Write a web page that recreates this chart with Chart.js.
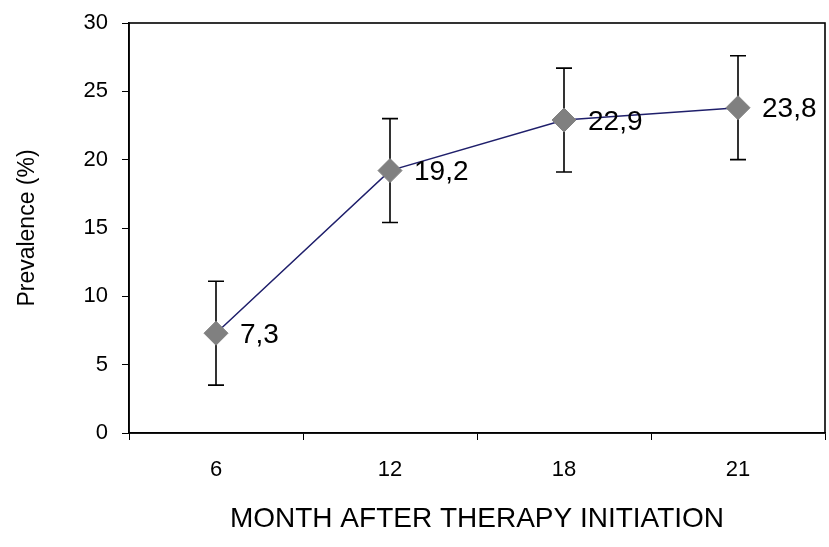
<!DOCTYPE html>
<html>
<head>
<meta charset="utf-8">
<script src="https://cdn.jsdelivr.net/npm/chart.js@4/dist/chart.umd.min.js"></script>
<style>
  html, body { margin: 0; padding: 0; background: #fff; }
  #wrap { width: 829px; height: 547px; }
</style>
</head>
<body>
<div id="wrap"><canvas id="myChart"></canvas></div>
<script>
var months = ["6", "12", "18", "21"];
var prevalence = [7.3, 19.2, 22.9, 23.8];
var errors = [3.8, 3.8, 3.8, 3.8];
var yTicks = [0, 5, 10, 15, 20, 25, 30];

var FONT = "Arial, 'Liberation Sans', sans-serif";

// error bars with caps, behind the markers
var errorBars = {
  id: "errorBars",
  beforeDatasetsDraw: function(chart){
    var ctx = chart.ctx;
    var x = chart.scales.x, y = chart.scales.y;
    ctx.save();
    ctx.strokeStyle = "#000";
    ctx.lineWidth = 1.6;
    prevalence.forEach(function(v, i){
      var px = x.getPixelForValue(i);
      var top = y.getPixelForValue(v + errors[i]);
      var bot = y.getPixelForValue(v - errors[i]);
      ctx.beginPath();
      ctx.moveTo(px, top); ctx.lineTo(px, bot);
      ctx.moveTo(px - 8, top); ctx.lineTo(px + 8, top);
      ctx.moveTo(px - 8, bot); ctx.lineTo(px + 8, bot);
      ctx.stroke();
    });
    ctx.restore();
  }
};

// value labels like "7,3" to the right of each point
var valueLabels = {
  id: "valueLabels",
  afterDatasetsDraw: function(chart){
    var ctx = chart.ctx;
    var meta = chart.getDatasetMeta(0);
    ctx.save();
    ctx.fillStyle = "#000";
    ctx.font = "28px " + FONT;
    ctx.textBaseline = "middle";
    ctx.textAlign = "left";
    meta.data.forEach(function(pt, i){
      ctx.fillText(String(prevalence[i]).replace(".", ","), pt.x + 24, pt.y + 2);
    });
    ctx.restore();
  }
};

// frame around the plot area
var frame = {
  id: "frame",
  afterDraw: function(chart){
    var a = chart.chartArea, ctx = chart.ctx;
    ctx.save();
    ctx.strokeStyle = "#000";
    ctx.lineWidth = 1.6;
    ctx.strokeRect(a.left, a.top, a.right - a.left, a.bottom - a.top);
    ctx.restore();
  }
};

var myChart = new Chart(document.getElementById("myChart"), {
  type: "line",
  data: {
    labels: months,
    datasets: [{
      label: "Prevalence",
      data: prevalence,
      borderColor: "#1f1f6b",
      borderWidth: 1.5,
      pointStyle: "rectRot",
      pointRadius: 12,
      pointHoverRadius: 12,
      pointBackgroundColor: "#808080",
      pointBorderColor: "#808080",
      pointBorderWidth: 1,
      tension: 0
    }]
  },
  options: {
    responsive: true,
    maintainAspectRatio: false,
    animation: false,
    layout: { autoPadding: false, padding: { top: 23, right: 4, left: 0, bottom: 0 } },
    plugins: { legend: { display: false }, tooltip: { enabled: false } },
    scales: {
      x: {
        offset: true,
        grid: { display: true, drawOnChartArea: false, drawTicks: true, tickLength: 7, color: "#000", offset: true },
        border: { color: "#000", width: 1.6 },
        ticks: { color: "#000", font: { family: FONT, size: 22 }, padding: 17 },
        title: { display: true, text: "MONTH AFTER THERAPY INITIATION", color: "#000",
                 font: { family: FONT, size: 28 }, padding: { top: 0, bottom: 11 } },
        afterFit: function(s){ s.height = 114; s.paddingLeft = 0; s.paddingRight = 0; }
      },
      y: {
        min: 0, max: 30,
        afterBuildTicks: function(s){ s.ticks = yTicks.map(function(v){ return { value: v }; }); },
        grid: { display: true, drawOnChartArea: false, drawTicks: true, tickLength: 7, color: "#000" },
        border: { color: "#000", width: 1.6 },
        ticks: { color: "#000", font: { family: FONT, size: 22 }, padding: 14 },
        title: { display: true, text: "Prevalence (%)", color: "#000",
                 font: { family: FONT, size: 23 }, padding: { top: 14, bottom: 0 } },
        afterFit: function(s){ s.width = 129; s.paddingTop = 0; s.paddingBottom = 0; }
      }
    }
  },
  plugins: [errorBars, valueLabels, frame]
});
</script>
</body>
</html>
